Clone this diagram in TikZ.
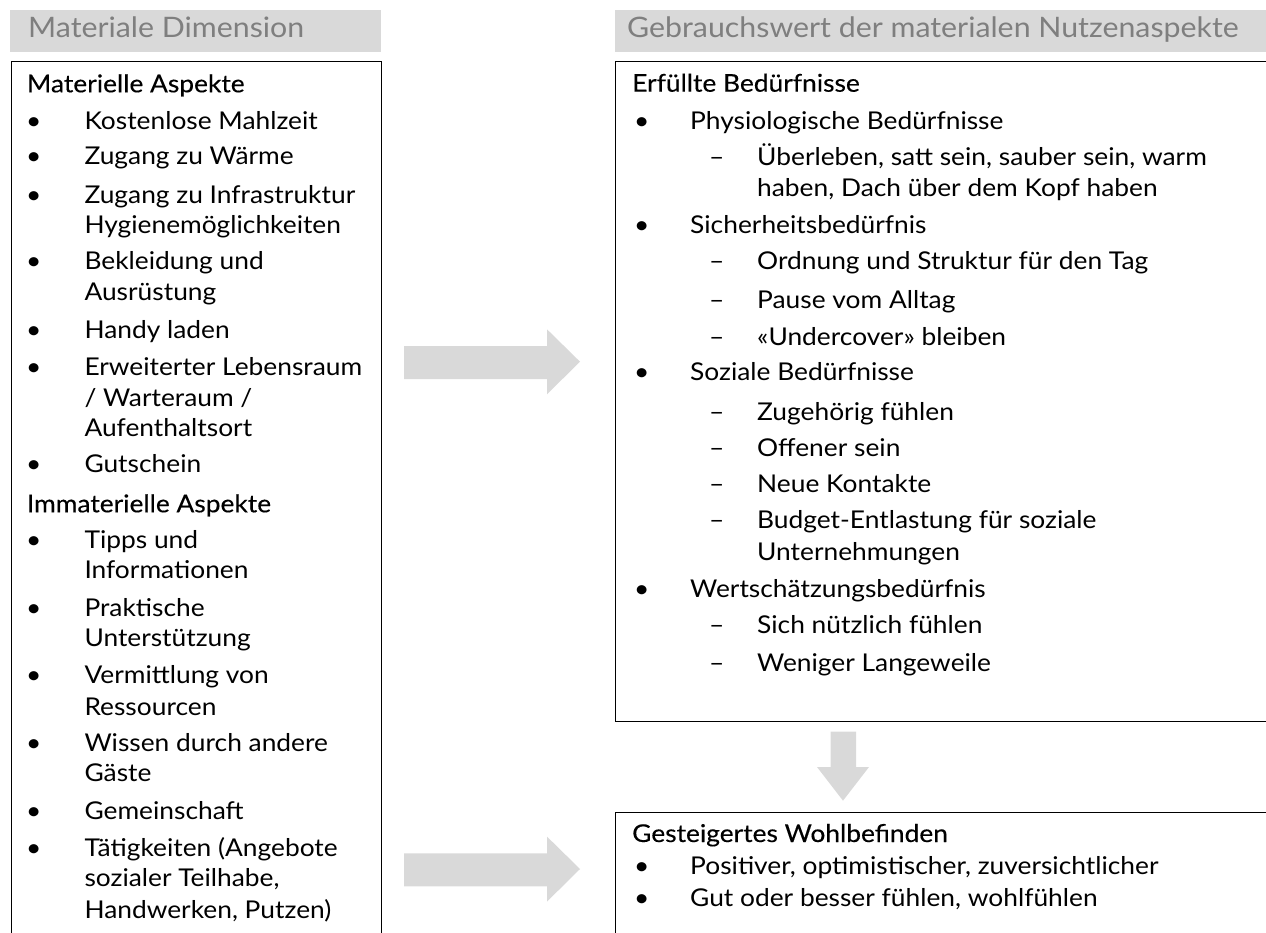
\documentclass[tikz,border=0pt]{standalone}
\usepackage{fontspec}
\setmainfont[FakeStretch=1.075]{Lato}
\newfontfamily\medfont[FakeBold=0.3,FakeStretch=1.075]{Lato}
\definecolor{hdrgray}{HTML}{D9D9D9}
\definecolor{hdrtxt}{HTML}{7F7F7F}
\definecolor{arrowgray}{HTML}{D9D9D9}
\tikzset{
  hdrbox/.style={fill=hdrgray, draw=none, inner sep=0, anchor=north west},
  framebox/.style={draw=black, line width=1.2pt, inner sep=0, anchor=north west},
  hdrtext/.style={anchor=base west, inner sep=0, text=hdrtxt, font=\fontsize{28.2}{33}\selectfont},
  txt/.style={anchor=base west, inner sep=0, font=\fontsize{24.5}{29}\selectfont},
  headtxt/.style={anchor=base west, inner sep=0, font=\medfont\fontsize{24.5}{29}\selectfont},
  blockarrow/.style={fill=arrowgray, draw=none},
}
\begin{document}
\begin{tikzpicture}[x=1pt,y=-1pt]
\useasboundingbox (0,0) rectangle (1266,933);
\clip (0,0) rectangle (1266,933);

% headers
\node[hdrbox, minimum width=370.3pt, minimum height=41.7pt] (lhdr) at (10,10) {};
\node[hdrtext] (lhdrt) at (28,37.5) {Materiale Dimension};
\node[hdrbox, minimum width=660pt, minimum height=41.7pt] (rhdr) at (615,10) {};
\node[hdrtext] (rhdrt) at (627,37.5) {Gebrauchswert der materialen Nutzenaspekte};

% frames
\node[framebox, minimum width=370.3pt, minimum height=900pt] (lbox) at (10.7,60.7) {};
\node[framebox, minimum width=660pt, minimum height=660.3pt] (rbox) at (615,60.7) {};
\node[framebox, minimum width=660pt, minimum height=200pt] (wbox) at (615,812) {};

% block arrows
\fill[blockarrow] (404,346) -- (547,346) -- (547,329.3) -- (580,361.7) -- (547,394.3) -- (547,379) -- (404,379) -- cycle;
\fill[blockarrow] (404,853.3) -- (547,853.3) -- (547,836.6) -- (580,869) -- (547,901.6) -- (547,886.3) -- (404,886.3) -- cycle;
\fill[blockarrow] (830.7,731.7) -- (856,731.7) -- (856,767) -- (869,767) -- (843,800.7) -- (817,767) -- (830.7,767) -- cycle;

% left column
\node[headtxt] (lh1) at (26.7,92.3) {Materielle Aspekte};
\node[txt] (lb1) at (26,129.3) {•};  \node[txt] (lt1) at (84.3,129.3) {Kostenlose Mahlzeit};
\node[txt] (lb2) at (26,165) {•};    \node[txt] (lt2) at (84.3,165) {Zugang zu Wärme};
\node[txt] (lb3) at (26,204) {•};    \node[txt] (lt3) at (84.3,204) {Zugang zu Infrastruktur};
\node[txt] (lt3b) at (84.3,234) {Hygienemöglichkeiten};
\node[txt] (lb4) at (26,270) {•};    \node[txt] (lt4) at (84.3,270) {Bekleidung und};
\node[txt] (lt4b) at (84.3,300.7) {Ausrüstung};
\node[txt] (lb5) at (26,338.3) {•};  \node[txt] (lt5) at (84.3,338.3) {Handy laden};
\node[txt] (lb6) at (26,375) {•};    \node[txt] (lt6) at (84.3,375) {Erweiterter Lebensraum};
\node[txt] (lt6b) at (84.3,406.7) {/ Warteraum /};
\node[txt] (lt6c) at (84.3,436.7) {Aufenthaltsort};
\node[txt] (lb7) at (26,472.7) {•};  \node[txt] (lt7) at (84.3,472.7) {Gutschein};
\node[headtxt] (lh2) at (26.7,512.3) {Immaterielle Aspekte};
\node[txt] (lb8) at (26,548.3) {•};  \node[txt] (lt8) at (84.3,548.3) {Tipps und};
\node[txt] (lt8b) at (84.3,578.3) {Informationen};
\node[txt] (lb9) at (26,616.7) {•};  \node[txt] (lt9) at (84.3,616.7) {Praktische};
\node[txt] (lt9b) at (84.3,646.7) {Unterstützung};
\node[txt] (lb10) at (26,683.3) {•}; \node[txt] (lt10) at (84.3,683.3) {Vermittlung von};
\node[txt] (lt10b) at (84.3,715) {Ressourcen};
\node[txt] (lb11) at (26,751.7) {•}; \node[txt] (lt11) at (84.3,751.7) {Wissen durch andere};
\node[txt] (lt11b) at (84.3,781.7) {Gäste};
\node[txt] (lb12) at (26,819.3) {•}; \node[txt] (lt12) at (84.3,819.3) {Gemeinschaft};
\node[txt] (lb13) at (26,856.7) {•}; \node[txt] (lt13) at (84.3,856.7) {Tätigkeiten (Angebote};
\node[txt] (lt13b) at (84.3,886.7) {sozialer Teilhabe,};
\node[txt] (lt13c) at (84.3,918.3) {Handwerken, Putzen)};

% right column
\node[headtxt] (rh1) at (632,91.7) {Erfüllte Bedürfnisse};
\node[txt] (rb1) at (634,129.3) {•}; \node[txt] (rt1) at (690,129.3) {Physiologische Bedürfnisse};
\node[txt] (rd1) at (709,166) {–};   \node[txt] (rs1) at (757,166) {Überleben, satt sein, sauber sein, warm};
\node[txt] (rs1b) at (757,197) {haben, Dach über dem Kopf haben};
\node[txt] (rb2) at (634,233.3) {•}; \node[txt] (rt2) at (690,233.3) {Sicherheitsbedürfnis};
\node[txt] (rd2) at (709,270) {–};   \node[txt] (rs2) at (757,270) {Ordnung und Struktur für den Tag};
\node[txt] (rd3) at (709,308.3) {–}; \node[txt] (rs3) at (757,308.3) {Pause vom Alltag};
\node[txt] (rd4) at (709,345) {–};   \node[txt] (rs4) at (757,345) {«Undercover» bleiben};
\node[txt] (rb3) at (634,380) {•};   \node[txt] (rt3) at (690,380) {Soziale Bedürfnisse};
\node[txt] (rd5) at (709,420) {–};   \node[txt] (rs5) at (757,420) {Zugehörig fühlen};
\node[txt] (rd6) at (709,456) {–};   \node[txt] (rs6) at (757,456) {Offener sein};
\node[txt] (rd7) at (709,492.7) {–}; \node[txt] (rs7) at (757,492.7) {Neue Kontakte};
\node[txt] (rd8) at (709,528.3) {–}; \node[txt] (rs8) at (757,528.3) {Budget-Entlastung für soziale};
\node[txt] (rs8b) at (757,560) {Unternehmungen};
\node[txt] (rb4) at (634,597.3) {•}; \node[txt] (rt4) at (690,597.3) {Wertschätzungsbedürfnis};
\node[txt] (rd9) at (709,633.3) {–}; \node[txt] (rs9) at (757,633.3) {Sich nützlich fühlen};
\node[txt] (rd10) at (709,671.7) {–}; \node[txt] (rs10) at (757,671.7) {Weniger Langeweile};

% wellbeing box
\node[headtxt] (wh) at (632,842) {Gesteigertes Wohlbefinden};
\node[txt] (wb1) at (634,874) {•}; \node[txt] (wt1) at (690,874) {Positiver, optimistischer, zuversichtlicher};
\node[txt] (wb2) at (634,906) {•}; \node[txt] (wt2) at (690,906) {Gut oder besser fühlen, wohlfühlen};
\end{tikzpicture}
\end{document}
